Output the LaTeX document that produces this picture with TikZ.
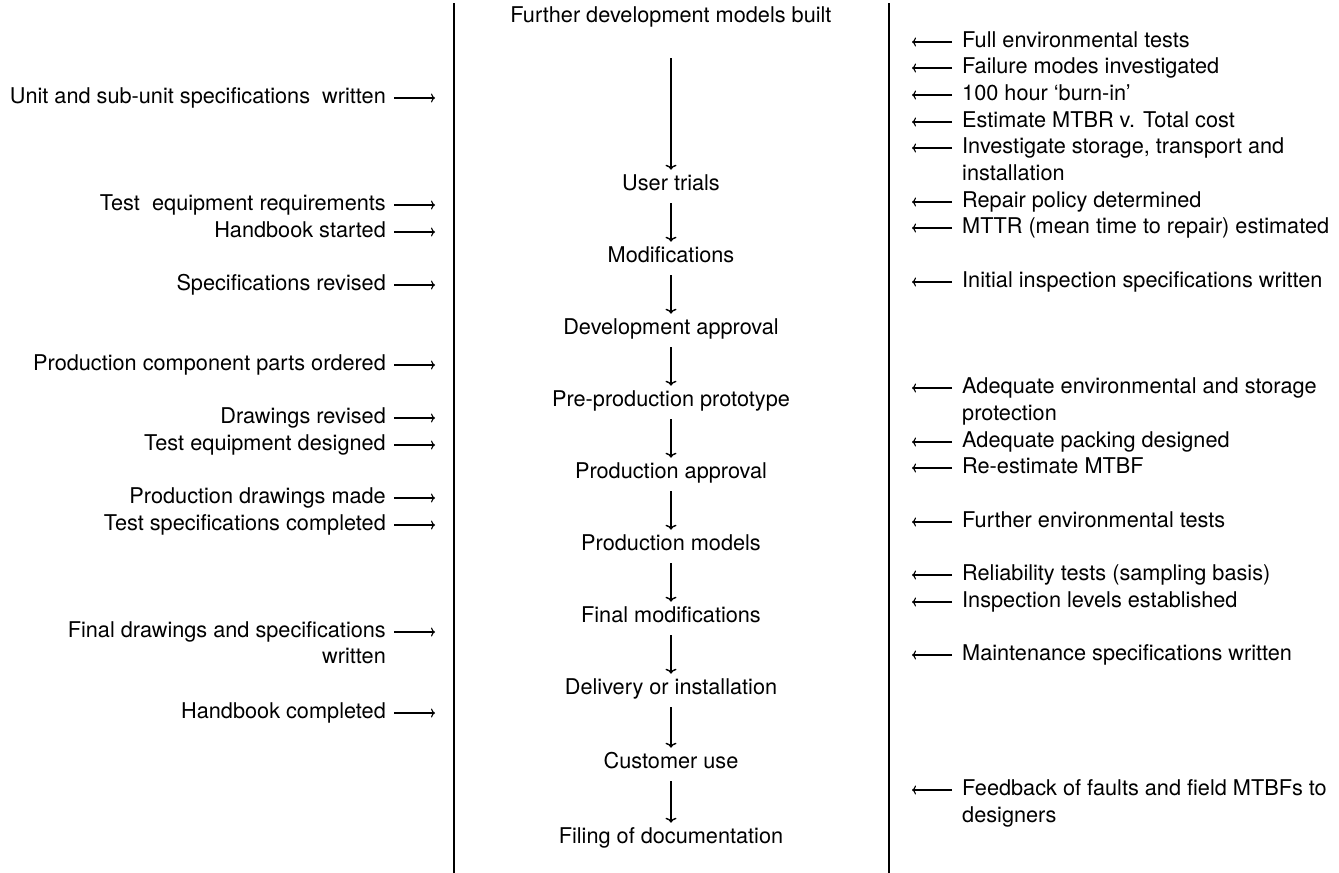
\documentclass[tikz,border=0pt]{standalone}
\usepackage{fontspec}
\setmainfont{TeX Gyre Heros}
\usetikzlibrary{arrows.meta}
\begin{document}
\begin{tikzpicture}[x=1pt,y=-1pt,
  every node/.style={font=\fontsize{21.7}{26.6}\selectfont, inner sep=0pt, text height=15.6pt, text depth=4.6pt},
  cnode/.style={anchor=center},
  lnode/.style={anchor=east},
  rnode/.style={anchor=west},
  flow/.style={line width=1.4pt, -{To[length=5pt,width=11pt]}, shorten <=8pt, shorten >=5pt},
  harr/.style={line width=1.1pt, -{To[length=4pt,width=9pt]}},
  rulel/.style={line width=1.5pt}]
\useasboundingbox (0,0) rectangle (1339,873);
% vertical rules
\coordinate (lt) at (454,3);
\coordinate (lb) at (454,873);
\coordinate (rt) at (889,3);
\coordinate (rb) at (889,873);
\draw[rulel] (lt) -- (lb);
\draw[rulel] (rt) -- (rb);
% arrow end coordinates
\coordinate (la) at (435,0);
\coordinate (ra) at (912,0);
% centre column
\node[cnode] (c1) at (671,17) {Further development models built};
\node[cnode] (c2) at (671,185) {User trials};
\node[cnode] (c3) at (671,257) {Modifications};
\node[cnode] (c4) at (671,329) {Development approval};
\node[cnode] (c5) at (671,401) {Pre-production prototype};
\node[cnode] (c6) at (671,473) {Production approval};
\node[cnode] (c7) at (671,545) {Production models};
\node[cnode] (c8) at (671,617) {Final modifications};
\node[cnode] (c9) at (671,689) {Delivery or installation};
\node[cnode] (c10) at (671,763) {Customer use};
\node[cnode] (c11) at (671,838) {Filing of documentation};
\draw[flow, shorten <=31pt] (c1) -- (c2);
\draw[flow] (c2) -- (c3);
\draw[flow] (c3) -- (c4);
\draw[flow] (c4) -- (c5);
\draw[flow] (c5) -- (c6);
\draw[flow] (c6) -- (c7);
\draw[flow] (c7) -- (c8);
\draw[flow] (c8) -- (c9);
\draw[flow] (c9) -- (c10);
\draw[flow] (c10) -- (c11);
% left column
\node[lnode] (l1) at (386,98) {Unit and sub-unit specifications\ \ written};
\node[lnode] (l2) at (386,205) {Test\ \ equipment requirements};
\node[lnode] (l3) at (386,232) {Handbook started};
\node[lnode] (l4) at (386,285) {Specifications revised};
\node[lnode] (l5) at (386,365) {Production component parts ordered};
\node[lnode] (l6) at (386,418) {Drawings revised};
\node[lnode] (l7) at (386,445) {Test equipment designed};
\node[lnode] (l8) at (386,498) {Production drawings made};
\node[lnode] (l9) at (386,525) {Test specifications completed};
\node[lnode] (l10) at (386,632) {Final drawings and specifications};
\node[lnode] (l10b) at (386,658) {written};
\node[lnode] (l11) at (386,713) {Handbook completed};
\foreach \n in {l1,l2,l3,l4,l5,l6,l7,l8,l9,l10,l11}
  \draw[harr] ([xshift=8pt]\n.east) -- (\n.east -| la);
% right column
\node[rnode] (r1) at (962,42) {Full environmental tests};
\node[rnode] (r2) at (962,68) {Failure modes investigated};
\node[rnode] (r3) at (962,95) {100 hour ‘burn-in’};
\node[rnode] (r4) at (962,122) {Estimate MTBR v. Total cost};
\node[rnode] (r5) at (962,148) {Investigate storage, transport and};
\node[rnode] (r5b) at (962,175) {installation};
\node[rnode] (r6) at (962,202) {Repair policy determined};
\node[rnode] (r7) at (962,228) {MTTR (mean time to repair) estimated};
\node[rnode] (r8) at (962,282) {Initial inspection specifications written};
\node[rnode] (r9) at (962,388) {Adequate environmental and storage};
\node[rnode] (r9b) at (962,415) {protection};
\node[rnode] (r10) at (962,442) {Adequate packing designed};
\node[rnode] (r11) at (962,468) {Re-estimate MTBF};
\node[rnode] (r12) at (962,522) {Further environmental tests};
\node[rnode] (r13) at (962,575) {Reliability tests (sampling basis)};
\node[rnode] (r14) at (962,602) {Inspection levels established};
\node[rnode] (r15) at (962,655) {Maintenance specifications written};
\node[rnode] (r16) at (962,790) {Feedback of faults and field MTBFs to};
\node[rnode] (r16b) at (962,817) {designers};
\foreach \n in {r1,r2,r3,r4,r5,r6,r7,r8,r9,r10,r11,r12,r13,r14,r15,r16}
  \draw[harr] ([xshift=-10pt]\n.west) -- (\n.west -| ra);
\end{tikzpicture}
\end{document}
